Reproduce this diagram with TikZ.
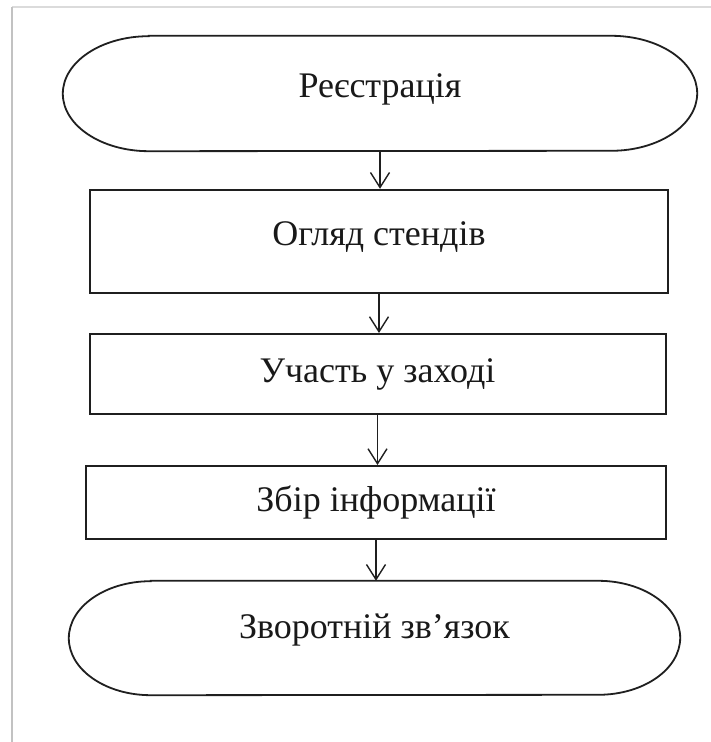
\documentclass[tikz,border=0pt]{standalone}
\usepackage{fontspec}
\setmainfont{Liberation Serif}
\usetikzlibrary{arrows.meta,calc}

\tikzset{
  lbl/.style={font=\fontsize{36}{42}\selectfont, text=black!90, text depth=0pt},
  termshape/.style={rectangle, lbl},
  stepbox/.style={rectangle, draw=black!88, line width=2pt, lbl},
  termline/.style={draw=black!88, line width=1.8pt},
  flow/.style={draw=black!88, line width=1.4pt, -{Straight Barb[length=15pt,width=19pt,line width=1.4pt]}},
  frame/.style={line width=1.6pt}
}

% rounded terminator outline with elliptical ends
\newcommand{\stadium}[3]{% node name, x radius, y radius
  \draw[termline] ($(#1.north west)+(#2,0)$) -- ($(#1.north east)+(-#2,0)$)
    arc[start angle=90, end angle=-90, x radius=#2, y radius=#3]
    -- ($(#1.south west)+(#2,0)$)
    arc[start angle=270, end angle=90, x radius=#2, y radius=#3] -- cycle;}

\begin{document}
\begin{tikzpicture}[x=1pt, y=1pt]
  \useasboundingbox (0,0) rectangle (711,742);
  \fill[white] (0,0) rectangle (711,742);

  % page frame
  \draw[frame, black!14] (12,735) -- (711,735);
  \draw[frame, black!24] (12,735) -- (12,0);

  \node[termshape, minimum width=634pt, minimum height=115pt, text height=8pt] (t1) at (380,648.5) {Реєстрація};
  \stadium{t1}{86}{57.5}

  \node[stepbox, minimum width=578pt, minimum height=103pt, text height=8pt] (b2) at (379,500.7) {Огляд стендів};
  \node[stepbox, minimum width=576pt, minimum height=80pt, text height=18pt] (b3) at (377.5,368) {Участь у заході};
  \node[stepbox, minimum width=580pt, minimum height=73pt, text height=19pt] (b4) at (376,239.5) {Збір інформації};

  \node[termshape, minimum width=611pt, minimum height=114pt, text height=2pt] (t2) at (374.5,104) {Зворотній зв’язок};
  \stadium{t2}{82}{57}

  \draw[flow] (t1.south) -- (t1.south |- b2.north);
  \draw[flow] (b2.south) -- (b2.south |- b3.north);
  \draw[flow] (b3.south) -- (b3.south |- b4.north);
  \draw[flow] (b4.south) -- (b4.south |- t2.north);
\end{tikzpicture}
\end{document}
